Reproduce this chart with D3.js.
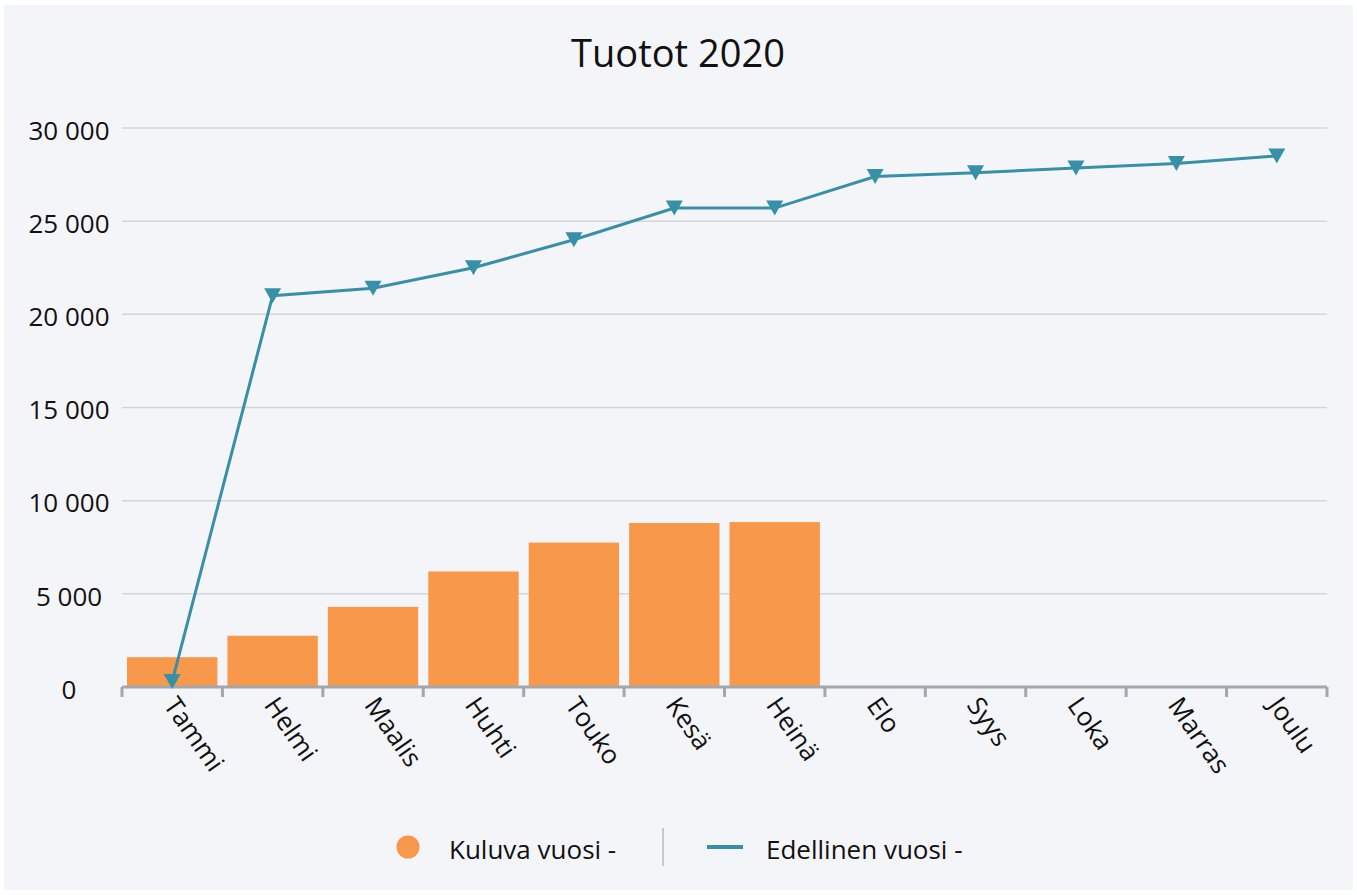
<!DOCTYPE html>
<html>
<head>
<meta charset="utf-8">
<script src="https://cdn.jsdelivr.net/npm/d3@7"></script>
<style>
  html, body { margin: 0; padding: 0; background: #fff; }
  svg { display: block; font-family: "Open Sans", "Noto Sans", sans-serif; }
</style>
</head>
<body>
<div id="container"></div>
<script>
const months = ['Tammi', 'Helmi', 'Maalis', 'Huhti', 'Touko', 'Kesä', 'Heinä', 'Elo', 'Syys', 'Loka', 'Marras', 'Joulu'];
const currentYear = [1600, 2750, 4300, 6200, 7750, 8800, 8850, null, null, null, null, null];
const previousYear = [300, 21000, 21400, 22500, 24000, 25700, 25700, 27400, 27600, 27850, 28100, 28500];
const yTicks = [0, 5000, 10000, 15000, 20000, 25000, 30000];

const W = 1357, H = 895;
const margin = { top: 128, right: 30, bottom: 208, left: 122 };

const svg = d3.select('#container').append('svg')
  .attr('width', W)
  .attr('height', H);

// Panel background
svg.append('rect')
  .attr('x', 4).attr('y', 5)
  .attr('width', W - 8).attr('height', H - 10)
  .attr('fill', '#f4f5f9');

// Scales
const x = d3.scaleBand().domain(months).range([margin.left, W - margin.right]).paddingInner(0.1).paddingOuter(0.05);
const xOuter = d3.scaleBand().domain(months).range([margin.left, W - margin.right]);
const y = d3.scaleLinear().domain([0, 30000]).range([H - margin.bottom, margin.top]);

const fmt = v => d3.format(',')(v).replace(/,/g, ' ');

// Title
svg.append('text')
  .attr('x', 678).attr('y', 67)
  .attr('text-anchor', 'middle')
  .style('font-size', '38px')
  .style('fill', '#111')
  .text('Tuotot 2020');

// Gridlines + y labels
svg.append('g').selectAll('line')
  .data(yTicks.filter(d => d > 0))
  .join('line')
  .attr('x1', margin.left).attr('x2', W - margin.right)
  .attr('y1', d => y(d)).attr('y2', d => y(d))
  .attr('stroke', '#d3d5da').attr('stroke-width', 1.5);

svg.append('g').selectAll('text')
  .data(yTicks)
  .join('text')
  .attr('x', 69)
  .attr('y', d => y(d))
  .attr('dy', '0.45em')
  .attr('text-anchor', 'middle')
  .style('font-size', '26px')
  .style('fill', '#111')
  .text(fmt);

// Bars
svg.append('g').selectAll('rect')
  .data(months.map((m, i) => ({ m, v: currentYear[i] })).filter(d => d.v != null))
  .join('rect')
  .attr('x', d => x(d.m))
  .attr('width', x.bandwidth())
  .attr('y', d => y(d.v))
  .attr('height', d => y(0) - y(d.v))
  .attr('fill', '#f7984a');

// X axis line + ticks
const axisY = y(0);
svg.append('line')
  .attr('x1', margin.left).attr('x2', W - margin.right)
  .attr('y1', axisY).attr('y2', axisY)
  .attr('stroke', '#a3a6ab').attr('stroke-width', 3);

const boundaries = months.map(m => xOuter(m)).concat([W - margin.right]);
svg.append('g').selectAll('line')
  .data(boundaries)
  .join('line')
  .attr('x1', d => d).attr('x2', d => d)
  .attr('y1', axisY).attr('y2', axisY + 10)
  .attr('stroke', '#a3a6ab').attr('stroke-width', 3);

// X labels (rotated)
svg.append('g').selectAll('text')
  .data(months)
  .join('text')
  .attr('transform', d => `translate(${xOuter(d) + xOuter.bandwidth() / 2 - 2},${axisY + 13}) rotate(55)`)
  .attr('dy', '0.35em')
  .style('font-size', '26px')
  .style('fill', '#111')
  .text(d => d);

// Line
const cx = d => xOuter(d) + xOuter.bandwidth() / 2;
const lineGen = d3.line().x(d => cx(d.m)).y(d => y(d.v));
const lineData = months.map((m, i) => ({ m, v: previousYear[i] }));
svg.append('path')
  .datum(lineData)
  .attr('d', lineGen)
  .attr('fill', 'none')
  .attr('stroke', '#3890a8')
  .attr('stroke-width', 3);

// Down-pointing triangle markers, centred on the point
const tw = 17, th = 15;
svg.append('g').selectAll('path')
  .data(lineData)
  .join('path')
  .attr('d', `M${-tw / 2},${-th / 2}L${tw / 2},${-th / 2}L0,${th / 2}Z`)
  .attr('transform', d => `translate(${cx(d.m)},${y(d.v)})`)
  .attr('fill', '#3890a8');

// Legend
const lg = svg.append('g').style('font-size', '26px').style('fill', '#111');
lg.append('circle').attr('cx', 408).attr('cy', 847).attr('r', 11.5).attr('fill', '#f7984a');
lg.append('text').attr('x', 449).attr('y', 859).text('Kuluva vuosi -');
lg.append('line').attr('x1', 663).attr('x2', 663).attr('y1', 828).attr('y2', 866)
  .attr('stroke', '#c8c9cc').attr('stroke-width', 2);
lg.append('line').attr('x1', 707).attr('x2', 743).attr('y1', 847).attr('y2', 847)
  .attr('stroke', '#3890a8').attr('stroke-width', 4);
lg.append('text').attr('x', 766).attr('y', 859).text('Edellinen vuosi -');
</script>
</body>
</html>
